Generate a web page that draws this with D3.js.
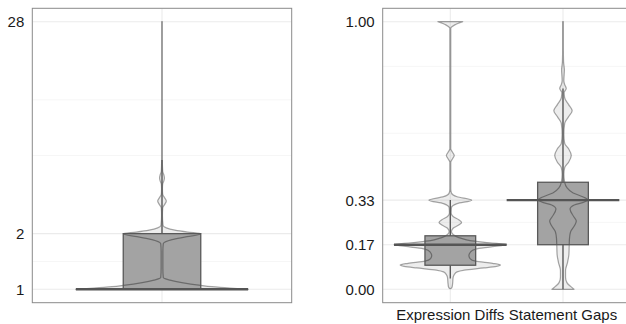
<!DOCTYPE html>
<html><head><meta charset="utf-8">
<script src="https://cdn.jsdelivr.net/npm/d3@7"></script>
<style>html,body{margin:0;padding:0;background:#fff;}svg{display:block;}</style>
</head><body>
<svg id="chart" width="626" height="324"></svg>
<script>
// ---------------- DATA ----------------
const leftCategories = [""];
const leftTicks = [1, 2, 28];
const leftMinorGrid = [1.414, 5.29, 10.58];
const leftQ1 = [1], leftMedian = [1], leftQ3 = [2], leftWhiskerLow = [1], leftWhiskerHigh = [5];
const leftViolinValues  = [1, 1.015, 1.034, 1.051, 1.088, 1.122, 1.157, 1.3, 1.6, 1.765, 1.855, 1.925, 2.0, 2.04, 2.09, 2.15, 2.22, 2.5, 2.75, 2.88, 3.0, 3.12, 3.26, 3.5, 3.72, 3.86, 4.0, 4.15, 4.35, 5, 10, 28];
const leftViolinDensity = [1.0, 0.79, 0.58, 0.45, 0.23, 0.093, 0.015, 0.01, 0.01, 0.015, 0.116, 0.29, 0.45, 0.3, 0.15, 0.05, 0.012, 0.005, 0.008, 0.032, 0.05, 0.032, 0.008, 0.005, 0.008, 0.022, 0.028, 0.022, 0.008, 0.004, 0.004, 0.004];

const rightCategories = ["Expression Diffs", "Statement Gaps"];
const rightTicks = [0, 1/6, 1/3, 1];
const rightMinorGrid = [0.25, 0.5, 0.583, 0.833];
const rightQ1 = [0.09, 1/6], rightMedian = [1/6, 1/3], rightQ3 = [0.2, 0.4];
const rightWhiskerLow = [0.04, 0], rightWhiskerHigh = [1/3, 0.75];
const exprViolinValues  = [0.003, 0.008, 0.02, 0.045, 0.055, 0.065, 0.072, 0.08, 0.086, 0.091, 0.097, 0.105, 0.115, 0.125, 0.14, 0.15, 0.158, 0.167, 0.174, 0.182, 0.19, 0.197, 0.205, 0.215, 0.228, 0.24, 0.25, 0.26, 0.272, 0.285, 0.305, 0.32, 0.333, 0.346, 0.36, 0.375, 0.475, 0.488, 0.5, 0.512, 0.525, 0.975, 0.988, 1.0];
const exprViolinDensity = [0.01, 0.03, 0.04, 0.05, 0.07, 0.12, 0.25, 0.6, 0.82, 0.89, 0.75, 0.45, 0.35, 0.33, 0.36, 0.45, 0.7, 1.0, 0.7, 0.35, 0.2, 0.11, 0.05, 0.02, 0.05, 0.15, 0.2, 0.15, 0.05, 0.015, 0.02, 0.12, 0.38, 0.12, 0.02, 0.008, 0.008, 0.04, 0.07, 0.04, 0.008, 0.008, 0.08, 0.22];
const stmtViolinValues  = [0, 0.01, 0.025, 0.045, 0.07, 0.1, 0.13, 0.16, 0.19, 0.215, 0.24, 0.255, 0.27, 0.3, 0.315, 0.325, 0.335, 0.345, 0.36, 0.38, 0.4, 0.43, 0.455, 0.475, 0.5, 0.525, 0.545, 0.58, 0.62, 0.645, 0.667, 0.69, 0.715, 0.735, 0.75, 0.765, 0.78, 0.82, 0.85, 0.9, 1.0];
const stmtViolinDensity = [0.195, 0.14, 0.07, 0.045, 0.045, 0.08, 0.105, 0.11, 0.115, 0.135, 0.21, 0.236, 0.195, 0.125, 0.2, 0.36, 0.44, 0.36, 0.18, 0.07, 0.03, 0.015, 0.03, 0.1, 0.147, 0.1, 0.03, 0.015, 0.03, 0.1, 0.163, 0.1, 0.03, 0.02, 0.058, 0.03, 0.015, 0.025, 0.01, 0.006, 0.006];

// ---------------- LAYOUT / STYLE ----------------
const svg = d3.select("#chart");
const panelTop = 8.3, panelBottom = 302.7;
const pad = (panelBottom - panelTop) * 0.05 / 1.1;
const FONT = "'Liberation Sans', Arial, Helvetica, sans-serif";
const BOX_HALF = 0.225, CROSS_HALF = 0.5, VIOLIN_HALF = 0.5;

function drawPanel(opt) {
  const g = svg.append("g");
  const x = d3.scaleLinear().domain(opt.xDomain).range([opt.x0, opt.x1]);
  const y = opt.yScale.range([panelBottom - pad, panelTop + pad]);
  const clip = "clip" + opt.id;
  svg.append("clipPath").attr("id", clip).append("rect")
    .attr("x", opt.x0).attr("y", panelTop).attr("width", opt.x1 - opt.x0).attr("height", panelBottom - panelTop);
  const pg = g.append("g").attr("clip-path", `url(#${clip})`);
  pg.selectAll(".minor").data(opt.minor).join("line")
    .attr("x1", opt.x0).attr("x2", opt.x1).attr("y1", d => y(d)).attr("y2", d => y(d))
    .attr("stroke", "#f4f4f4").attr("stroke-width", 0.8);
  pg.selectAll(".major").data(opt.ticks).join("line")
    .attr("x1", opt.x0).attr("x2", opt.x1).attr("y1", d => y(d)).attr("y2", d => y(d))
    .attr("stroke", "#ebebeb").attr("stroke-width", 1.1);
  pg.selectAll(".vmajor").data(opt.categories).join("line")
    .attr("x1", (d, i) => x(i + 1)).attr("x2", (d, i) => x(i + 1)).attr("y1", panelTop).attr("y2", panelBottom)
    .attr("stroke", "#ebebeb").attr("stroke-width", 1.1);

  opt.categories.forEach((c, i) => {
    const cx = i + 1;
    pg.append("rect")
      .attr("x", x(cx - BOX_HALF)).attr("width", x(cx + BOX_HALF) - x(cx - BOX_HALF))
      .attr("y", y(opt.q3[i])).attr("height", y(opt.q1[i]) - y(opt.q3[i]))
      .attr("fill", "#a3a3a3");
    const pts = opt.vValues[i].map((v, k) => ({v, d: opt.vDensity[i][k]}));
    const area = d3.area()
      .y(p => y(p.v))
      .x0(p => x(cx - p.d * VIOLIN_HALF))
      .x1(p => x(cx + p.d * VIOLIN_HALF))
      .curve(d3.curveMonotoneY);
    pg.append("path").attr("d", area(pts))
      .attr("fill", "#a3a3a3").attr("fill-opacity", 0.2)
      .attr("stroke", "#000").attr("stroke-opacity", 0.34).attr("stroke-width", 1.25)
      .attr("stroke-linejoin", "round");
    pg.append("rect")
      .attr("x", x(cx - BOX_HALF)).attr("width", x(cx + BOX_HALF) - x(cx - BOX_HALF))
      .attr("y", y(opt.q3[i])).attr("height", y(opt.q1[i]) - y(opt.q3[i]))
      .attr("fill", "none").attr("stroke", "#595959").attr("stroke-width", 1.3);
    [[opt.q3[i], opt.hi[i]], [opt.q1[i], opt.lo[i]]].forEach(([a, b]) => {
      if (a === b) return;
      pg.append("line").attr("x1", x(cx)).attr("x2", x(cx)).attr("y1", y(a)).attr("y2", y(b))
        .attr("stroke", "#595959").attr("stroke-width", 1.4);
    });
    pg.append("line")
      .attr("x1", x(cx - CROSS_HALF)).attr("x2", x(cx + CROSS_HALF))
      .attr("y1", y(opt.median[i])).attr("y2", y(opt.median[i]))
      .attr("stroke", "#555").attr("stroke-width", 2.4);
  });

  g.append("rect").attr("x", opt.x0).attr("y", panelTop).attr("width", opt.x1 - opt.x0).attr("height", panelBottom - panelTop)
    .attr("fill", "none").attr("stroke", "#8a8a8a").attr("stroke-width", 1);

  g.selectAll(".ylab").data(opt.ticks).join("text")
    .attr("x", opt.x0 - 8).attr("y", d => y(d)).attr("dy", "0.36em")
    .attr("text-anchor", "end").attr("font-family", FONT).attr("font-size", 15)
    .attr("fill", "#1a1a1a").text(opt.fmt);
  g.selectAll(".xlab").data(opt.categories).join("text")
    .attr("x", (d, i) => x(i + 1)).attr("y", 319.5)
    .attr("text-anchor", "middle").attr("font-family", FONT).attr("font-size", 15)
    .attr("fill", "#1a1a1a").text(d => d);
}

drawPanel({
  id: "L", x0: 32.3, x1: 291.7, xDomain: [0.247, 1.753],
  yScale: d3.scaleLog().domain([1, 28]),
  ticks: leftTicks, minor: leftMinorGrid, categories: leftCategories,
  q1: leftQ1, median: leftMedian, q3: leftQ3, lo: leftWhiskerLow, hi: leftWhiskerHigh,
  vValues: [leftViolinValues], vDensity: [leftViolinDensity],
  fmt: d => String(d)
});
drawPanel({
  id: "R", x0: 382.7, x1: 630.6, xDomain: [0.4, 2.6],
  yScale: d3.scaleLinear().domain([0, 1]),
  ticks: rightTicks, minor: rightMinorGrid, categories: rightCategories,
  q1: rightQ1, median: rightMedian, q3: rightQ3, lo: rightWhiskerLow, hi: rightWhiskerHigh,
  vValues: [exprViolinValues, stmtViolinValues], vDensity: [exprViolinDensity, stmtViolinDensity],
  fmt: d3.format(".2f")
});
</script>
</body></html>
